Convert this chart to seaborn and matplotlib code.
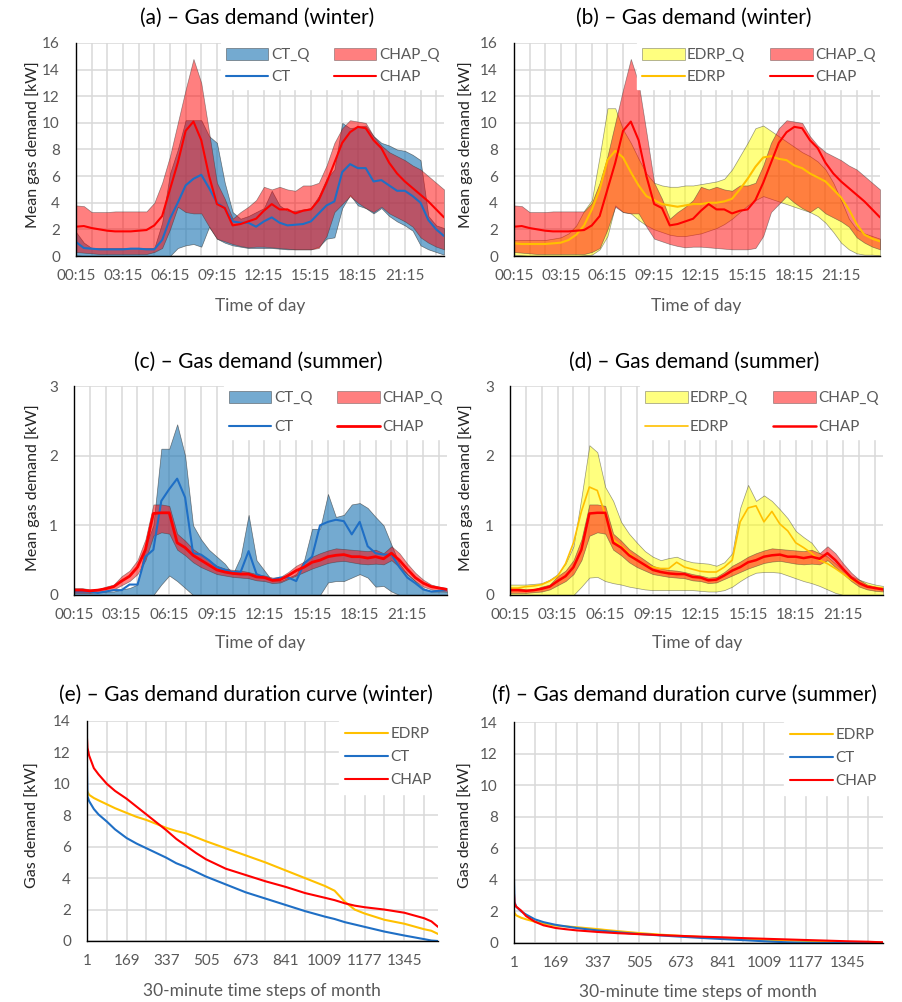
import matplotlib
matplotlib.use("Agg")
import matplotlib.pyplot as plt
import numpy as np
import seaborn as sns
from matplotlib.patches import Patch
from matplotlib.lines import Line2D

# ---- half-hourly profiles (00:15 ... 23:45), kW ----
time_ticks = ["00:15", "03:15", "06:15", "09:15", "12:15", "15:15", "18:15", "21:15"]

# winter
ct_w = [1.05, 0.6, 0.55, 0.5, 0.5, 0.5, 0.5, 0.55, 0.55, 0.5,
        0.5, 1.2, 2.8, 4.0, 5.3, 5.8, 6.1, 5.1, 4.0, 3.6,
        2.6, 2.5, 2.5, 2.2, 2.6, 2.9, 2.5, 2.3, 2.35, 2.4,
        2.6, 3.2, 3.8, 4.1, 6.3, 6.9, 6.6, 6.6, 5.6, 5.7,
        5.3, 4.9, 4.9, 4.5, 4.0, 2.7, 2.0, 1.5]
ct_w_lo = [0.05, 0, 0, 0, 0, 0, 0, 0, 0, 0,
           0, 0, 0, 0.6, 0.8, 0.9, 0.7, 2.2, 1.3, 1.0,
           0.8, 0.7, 0.6, 0.6, 0.6, 0.6, 0.55, 0.5, 0.5, 0.5,
           0.5, 0.7, 1.3, 1.4, 3.6, 4.6, 3.8, 3.6, 3.2, 3.6,
           3.0, 2.6, 2.3, 1.9, 0.8, 0.5, 0.3, 0.1]
ct_w_hi = [1.8, 1.0, 0.6, 0.6, 0.6, 0.6, 0.6, 0.6, 0.6, 0.6,
           0.6, 2.5, 6.2, 8.0, 10.2, 10.2, 10.2, 9.0, 8.5, 5.5,
           3.3, 2.8, 3.0, 3.3, 3.6, 4.9, 3.8, 3.4, 3.4, 3.5,
           3.6, 4.5, 5.8, 6.5, 10.0, 9.6, 9.7, 9.8, 9.0, 8.5,
           8.3, 8.0, 7.9, 7.6, 7.2, 3.0, 2.3, 2.1]
chap_w = [2.2, 2.25, 2.1, 2.0, 1.9, 1.85, 1.85, 1.85, 1.9, 1.95,
          2.3, 3.0, 5.0, 7.0, 9.4, 10.1, 8.7, 6.0, 3.9, 3.6,
          2.3, 2.4, 2.6, 2.8, 3.4, 3.9, 3.5, 3.5, 3.2, 3.4,
          3.5, 4.2, 5.5, 7.0, 8.5, 9.3, 9.7, 9.6, 8.7, 8.1,
          7.0, 6.2, 5.6, 5.1, 4.6, 4.1, 3.5, 2.9]
chap_w_lo = [0.3, 0.25, 0.2, 0.15, 0.15, 0.15, 0.15, 0.15, 0.15, 0.15,
             0.3, 0.6, 2.0, 3.7, 3.3, 3.2, 3.2, 2.2, 1.3, 1.1,
             0.9, 0.75, 0.65, 0.7, 0.7, 0.65, 0.6, 0.55, 0.5, 0.5,
             0.5, 0.6, 1.5, 3.3, 3.9, 4.5, 4.0, 3.6, 3.3, 3.7,
             3.2, 2.9, 2.6, 2.2, 1.4, 1.0, 0.7, 0.5]
chap_w_hi = [3.8, 3.75, 3.3, 3.3, 3.3, 3.35, 3.35, 3.35, 3.35, 3.35,
             4.0, 5.5, 7.5, 10.0, 12.5, 14.8, 13.0, 9.3, 5.5, 4.3,
             2.8, 3.3, 3.7, 4.2, 5.2, 5.0, 5.2, 5.0, 4.9, 5.3,
             5.3, 5.5, 6.8, 8.5, 9.6, 10.2, 10.1, 10.0, 9.0, 8.3,
             7.8, 7.5, 7.2, 6.8, 6.5, 6.0, 5.5, 5.0]
edrp_w = [0.95, 0.9, 0.9, 0.9, 0.9, 0.95, 1.0, 1.2, 1.6, 2.3,
          3.5, 5.0, 7.2, 7.9, 7.4, 6.3, 5.3, 4.5, 4.2, 3.9,
          3.8, 3.7, 3.8, 3.9, 3.9, 4.0, 4.0, 4.1, 4.3, 5.0,
          5.8, 6.7, 7.4, 7.5, 7.3, 7.2, 6.8, 6.6, 6.2, 5.9,
          5.6, 5.0, 4.4, 3.5, 2.4, 1.6, 1.3, 1.1]
edrp_w_lo = [0.1, 0.05, 0, 0, 0, 0, 0, 0, 0, 0.05,
             0.1, 0.5, 1.5, 3.8, 3.3, 3.2, 2.7, 2.3, 2.0, 1.8,
             1.6, 1.5, 1.5, 1.6, 1.7, 1.9, 2.1, 2.4, 2.8, 3.3,
             3.8, 4.2, 4.5, 4.3, 4.1, 3.9, 3.7, 3.5, 3.3, 3.0,
             2.5, 1.8, 1.0, 0.5, 0.2, 0.1, 0.1, 0.05]
edrp_w_hi = [1.2, 1.2, 1.2, 1.2, 1.2, 1.3, 1.4, 1.7, 2.3, 3.4,
             4.2, 7.5, 11.1, 11.1, 9.5, 8.5, 7.3, 6.2, 5.5, 5.3,
             5.2, 5.2, 5.3, 5.3, 5.4, 5.5, 5.6, 5.8, 6.5, 7.5,
             8.5, 9.6, 9.8, 9.4, 9.0, 8.6, 8.2, 7.8, 7.5, 7.1,
             6.5, 5.5, 4.2, 2.8, 2.0, 1.7, 1.5, 1.3]

# summer
ct_s = [0.05, 0.05, 0.05, 0.03, 0.05, 0.07, 0.07, 0.15, 0.15, 0.55,
        0.65, 1.35, 1.52, 1.67, 1.4, 0.6, 0.58, 0.5, 0.4, 0.36,
        0.33, 0.33, 0.63, 0.3, 0.25, 0.22, 0.25, 0.25, 0.2, 0.45,
        0.55, 1.0, 1.05, 1.08, 1.06, 0.87, 1.05, 0.7, 0.6, 0.58,
        0.58, 0.4, 0.25, 0.17, 0.08, 0.05, 0.06, 0.07]
ct_s_lo = [0, 0, 0, 0, 0, 0, 0, 0, 0, 0,
           0, 0.15, 0.28, 0.2, 0.1, 0, 0, 0, 0, 0,
           0, 0, 0, 0, 0, 0, 0, 0, 0, 0,
           0, 0, 0.18, 0.2, 0.2, 0.25, 0.3, 0.25, 0.12, 0.13,
           0.05, 0, 0, 0, 0, 0, 0, 0]
ct_s_hi = [0.05, 0.05, 0.05, 0.05, 0.05, 0.05, 0.08, 0.1, 0.15, 0.7,
           1.0, 2.1, 2.1, 2.45, 2.0, 1.0, 0.8, 0.65, 0.55, 0.45,
           0.3, 0.55, 1.15, 0.5, 0.35, 0.2, 0.2, 0.25, 0.3, 0.5,
           0.95, 0.95, 1.45, 1.12, 1.15, 1.3, 1.32, 1.25, 1.12, 1.0,
           0.72, 0.45, 0.3, 0.2, 0.1, 0.05, 0.05, 0.05]
chap_s = [0.07, 0.07, 0.06, 0.07, 0.09, 0.12, 0.2, 0.27, 0.4, 0.65,
          1.17, 1.18, 1.18, 0.75, 0.68, 0.57, 0.5, 0.43, 0.36, 0.33,
          0.31, 0.3, 0.3, 0.26, 0.25, 0.21, 0.22, 0.28, 0.35, 0.4,
          0.47, 0.5, 0.55, 0.57, 0.58, 0.55, 0.55, 0.53, 0.55, 0.52,
          0.6, 0.5, 0.37, 0.25, 0.17, 0.12, 0.1, 0.08]
chap_s_lo = [0.03, 0.03, 0.03, 0.04, 0.05, 0.08, 0.14, 0.2, 0.3, 0.5,
             0.85, 0.9, 0.88, 0.65, 0.57, 0.47, 0.4, 0.35, 0.3, 0.28,
             0.26, 0.25, 0.24, 0.21, 0.2, 0.17, 0.18, 0.23, 0.28, 0.33,
             0.38, 0.42, 0.46, 0.48, 0.49, 0.47, 0.45, 0.44, 0.45, 0.44,
             0.5, 0.4, 0.3, 0.2, 0.12, 0.08, 0.06, 0.05]
chap_s_hi = [0.1, 0.1, 0.08, 0.08, 0.12, 0.15, 0.27, 0.35, 0.5, 0.8,
             1.3, 1.3, 1.28, 0.88, 0.78, 0.66, 0.58, 0.5, 0.42, 0.38,
             0.36, 0.35, 0.33, 0.3, 0.28, 0.25, 0.26, 0.33, 0.42, 0.48,
             0.55, 0.6, 0.64, 0.67, 0.66, 0.65, 0.64, 0.63, 0.65, 0.6,
             0.7, 0.6, 0.45, 0.32, 0.22, 0.15, 0.12, 0.1]
edrp_s = [0.1, 0.1, 0.12, 0.13, 0.15, 0.2, 0.27, 0.45, 0.75, 1.2,
          1.55, 1.5, 1.15, 0.8, 0.7, 0.6, 0.5, 0.43, 0.4, 0.38,
          0.38, 0.47, 0.4, 0.37, 0.34, 0.33, 0.33, 0.4, 0.5, 1.05,
          1.25, 1.28, 1.05, 1.2, 1.02, 0.92, 0.75, 0.68, 0.6, 0.5,
          0.45, 0.38, 0.3, 0.22, 0.17, 0.13, 0.11, 0.1]
edrp_s_lo = [0, 0, 0, 0, 0, 0, 0, 0, 0, 0.12,
             0.25, 0.26, 0.2, 0.17, 0.15, 0.12, 0.1, 0.08, 0.07, 0.07,
             0.07, 0.07, 0.07, 0.07, 0.06, 0.05, 0.05, 0.07, 0.12, 0.2,
             0.27, 0.32, 0.33, 0.33, 0.32, 0.28, 0.24, 0.2, 0.17, 0.13,
             0.08, 0.03, 0, 0, 0, 0, 0, 0]
edrp_s_hi = [0.15, 0.15, 0.15, 0.16, 0.17, 0.22, 0.3, 0.45, 0.7, 1.4,
             2.15, 2.05, 1.55, 1.35, 1.05, 0.88, 0.75, 0.63, 0.55, 0.5,
             0.53, 0.55, 0.5, 0.47, 0.46, 0.45, 0.42, 0.47, 0.6, 1.25,
             1.58, 1.35, 1.43, 1.35, 1.23, 1.1, 0.92, 0.83, 0.75, 0.6,
             0.55, 0.45, 0.35, 0.27, 0.22, 0.18, 0.15, 0.13]

# ---- duration curves (rank of 30-min step, kW) ----
rank = [1, 3, 10, 30, 50, 85, 120, 169, 211, 253, 295, 337, 379, 421, 463, 505,
        589, 673, 757, 841, 925, 1009, 1050, 1093, 1135, 1177, 1261, 1345, 1429, 1460, 1488]
dur_edrp_w = [9.6, 9.5, 9.3, 9.1, 8.95, 8.7, 8.45, 8.15, 7.9, 7.7, 7.45, 7.2, 7.0, 6.85, 6.6, 6.35,
              5.9, 5.45, 5.0, 4.5, 4.0, 3.5, 3.2, 2.5, 2.0, 1.75, 1.35, 1.1, 0.75, 0.65, 0.45]
dur_ct_w = [11.0, 9.2, 8.9, 8.4, 8.05, 7.6, 7.1, 6.55, 6.2, 5.9, 5.6, 5.3, 4.95, 4.7, 4.4, 4.1,
            3.6, 3.1, 2.7, 2.3, 1.9, 1.55, 1.4, 1.2, 1.05, 0.9, 0.6, 0.35, 0.12, 0.03, 0.0]
dur_chap_w = [12.9, 12.3, 11.8, 11.0, 10.6, 10.0, 9.55, 9.05, 8.55, 8.05, 7.55, 7.05, 6.5, 6.05, 5.6, 5.2,
              4.6, 4.2, 3.8, 3.45, 3.05, 2.75, 2.6, 2.4, 2.25, 2.15, 2.0, 1.8, 1.45, 1.25, 0.9]
dur_edrp_s = [2.0, 1.9, 1.75, 1.6, 1.5, 1.35, 1.22, 1.1, 1.05, 1.0, 0.94, 0.88, 0.81, 0.75, 0.69, 0.63,
              0.53, 0.45, 0.38, 0.32, 0.26, 0.21, 0.19, 0.17, 0.15, 0.13, 0.09, 0.06, 0.03, 0.02, 0.01]
dur_ct_s = [4.0, 2.6, 2.3, 2.0, 1.8, 1.5, 1.32, 1.15, 1.05, 0.95, 0.87, 0.8, 0.74, 0.68, 0.62, 0.57,
            0.48, 0.4, 0.32, 0.25, 0.18, 0.11, 0.08, 0.05, 0.03, 0.02, 0.0, 0.0, 0.0, 0.0, 0.0]
dur_chap_s = [3.1, 2.5, 2.3, 2.05, 1.7, 1.35, 1.12, 0.95, 0.87, 0.8, 0.75, 0.7, 0.66, 0.62, 0.59, 0.56,
              0.5, 0.45, 0.4, 0.36, 0.31, 0.27, 0.25, 0.23, 0.21, 0.19, 0.15, 0.11, 0.08, 0.06, 0.05]
dur_ticks = [1, 169, 337, 505, 673, 841, 1009, 1177, 1345]

C_CT, C_CHAP, C_EDRP = "#1F6FC5", "#FF0000", "#FFC000"
Q_CT, Q_CHAP, Q_EDRP = ("#1F77B4", 0.62), ("#FF0000", 0.5), ("#FFFF00", 0.5)
EDGE = "#303030"
GRAY = "#595959"

sns.set_theme(style="white")
plt.rcParams["font.family"] = ["Lato", "DejaVu Sans"]

W, H = 902, 1002
fig = plt.figure(figsize=(W / 100, H / 100), dpi=100)


def add_panel(box):
    x0, y0, x1, y1 = box
    return fig.add_axes([x0 / W, 1 - y1 / H, (x1 - x0) / W, (y1 - y0) / H])


def style_axes(ax, ymax, ystep):
    ax.set_ylim(0, ymax)
    ax.set_yticks(np.arange(0, ymax + 0.01, ystep))
    ax.grid(True, color="#d9d9d9", lw=1.1)
    ax.set_axisbelow(True)
    for s in ["top", "right"]:
        ax.spines[s].set_visible(False)
    for s in ["left", "bottom"]:
        ax.spines[s].set_color("black")
        ax.spines[s].set_linewidth(1.0)
    ax.tick_params(direction="out", length=4.5, width=1, color="black",
                   labelcolor=GRAY, labelsize=11)
    ax.tick_params(axis="y", pad=7)
    ax.tick_params(axis="x", pad=5)
    ax.set_xlabel("")
    ax.set_ylabel("")


def band(ax, lo, hi, q):
    x = np.arange(len(lo))
    ax.fill_between(x, lo, hi, facecolor=q[0], edgecolor=EDGE, lw=0.5, alpha=q[1])


def profile_panel(box, bands, lines, ymax, ystep, names, legend_kw):
    ax = add_panel(box)
    x = np.arange(48)
    for lo, hi, q in bands:
        band(ax, lo, hi, q)
    for y, c, lw in lines:
        sns.lineplot(x=x, y=y, ax=ax, color=c, lw=lw)
    ax.set_xlim(0, 47)
    style_axes(ax, ymax, ystep)
    ax.set_xticks(np.arange(0, 48, 2))
    ax.set_xticklabels([time_ticks[i // 3] if i % 3 == 0 else "" for i in range(24)])
    handles = [Patch(facecolor=bands[0][2][0], alpha=bands[0][2][1], edgecolor=EDGE, lw=0.5),
               Line2D([], [], color=lines[0][1], lw=lines[0][2]),
               Patch(facecolor=bands[1][2][0], alpha=bands[1][2][1], edgecolor=EDGE, lw=0.5),
               Line2D([], [], color=lines[1][1], lw=lines[1][2])]
    ax.legend(handles, names, ncol=2, loc="upper right", frameon=True, fancybox=False,
              facecolor="white", edgecolor="white", framealpha=1, fontsize=11,
              labelcolor=GRAY, handlelength=2.8, handleheight=0.9, handletextpad=0.15,
              columnspacing=1.6, borderpad=0.3, borderaxespad=0.0, **legend_kw)
    return ax


def duration_panel(box, series):
    ax = add_panel(box)
    for y, c in series:
        sns.lineplot(x=rank, y=y, ax=ax, color=c, lw=1.5)
    ax.set_xlim(1, 1488)
    style_axes(ax, 14, 2)
    ax.set_xticks(np.arange(1, 1489, 84))
    ax.set_xticklabels([str(t) if t in dur_ticks else "" for t in np.arange(1, 1489, 84)])
    handles = [Line2D([], [], color=c, lw=1.5) for _, c in series]
    ax.legend(handles, ["EDRP", "CT", "CHAP"], loc="upper right", frameon=True, fancybox=False,
              facecolor="white", edgecolor="white", framealpha=1, fontsize=11,
              labelcolor=GRAY, handlelength=2.8, handletextpad=0.15,
              labelspacing=0.6, borderpad=0.4, borderaxespad=0.0)
    return ax


# (a) / (b) winter
profile_panel((76, 43, 444, 256),
              [(ct_w_lo, ct_w_hi, Q_CT), (chap_w_lo, chap_w_hi, Q_CHAP)],
              [(ct_w, C_CT, 1.5), (chap_w, C_CHAP, 1.5)],
              16, 2, ["CT_Q", "CT", "CHAP_Q", "CHAP"], dict(labelspacing=0.5))
profile_panel((514, 43, 880, 256),
              [(edrp_w_lo, edrp_w_hi, Q_EDRP), (chap_w_lo, chap_w_hi, Q_CHAP)],
              [(edrp_w, C_EDRP, 1.5), (chap_w, C_CHAP, 1.5)],
              16, 2, ["EDRP_Q", "EDRP", "CHAP_Q", "CHAP"], dict(labelspacing=0.5))

# (c) / (d) summer
profile_panel((74, 386, 447, 595),
              [(ct_s_lo, ct_s_hi, Q_CT), (chap_s_lo, chap_s_hi, Q_CHAP)],
              [(ct_s, C_CT, 1.5), (chap_s, C_CHAP, 2.0)],
              3, 1, ["CT_Q", "CT", "CHAP_Q", "CHAP"], dict(labelspacing=0.95))
profile_panel((510, 386, 883, 595),
              [(edrp_s_lo, edrp_s_hi, Q_EDRP), (chap_s_lo, chap_s_hi, Q_CHAP)],
              [(edrp_s, C_EDRP, 1.2), (chap_s, C_CHAP, 1.8)],
              3, 1, ["EDRP_Q", "EDRP", "CHAP_Q", "CHAP"], dict(labelspacing=0.95))

# (e) / (f) duration curves
duration_panel((87, 721, 438, 941), [(dur_edrp_w, C_EDRP), (dur_ct_w, C_CT), (dur_chap_w, C_CHAP)])
duration_panel((514, 722, 883, 943), [(dur_edrp_s, C_EDRP), (dur_ct_s, C_CT), (dur_chap_s, C_CHAP)])

# titles and axis labels (pixel centres)
titles = [("(a) \u2013 Gas demand (winter)", 257, 18), ("(b) \u2013 Gas demand (winter)", 694, 18),
          ("(c) \u2013 Gas demand (summer)", 258, 362), ("(d) \u2013 Gas demand (summer)", 694, 362),
          ("(e) \u2013 Gas demand duration curve (winter)", 246, 695),
          ("(f) \u2013 Gas demand duration curve (summer)", 684, 695)]
for txt, cx, cy in titles:
    fig.text(cx / W, 1 - cy / H, txt, ha="center", va="center", fontsize=15, color="black")

xlabels = [("Time of day", 260, 306), ("Time of day", 696, 306),
           ("Time of day", 260, 643), ("Time of day", 697, 643),
           ("30-minute time steps of month", 262, 991), ("30-minute time steps of month", 698, 992)]
for txt, cx, cy in xlabels:
    fig.text(cx / W, 1 - cy / H, txt, ha="center", va="center", fontsize=12.5, color=GRAY)

ylabels = [("Mean gas demand [kW]", 33, 145), ("Mean gas demand [kW]", 466, 145),
           ("Mean gas demand [kW]", 33, 488), ("Mean gas demand [kW]", 466, 488),
           ("Gas demand [kW]", 33, 825), ("Gas demand [kW]", 466, 825)]
for txt, cx, cy in ylabels:
    fig.text(cx / W, 1 - cy / H, txt, ha="center", va="center", rotation=90,
             fontsize=11.5, color="#262626")

fig.savefig("out.png", dpi=100, facecolor="white")
